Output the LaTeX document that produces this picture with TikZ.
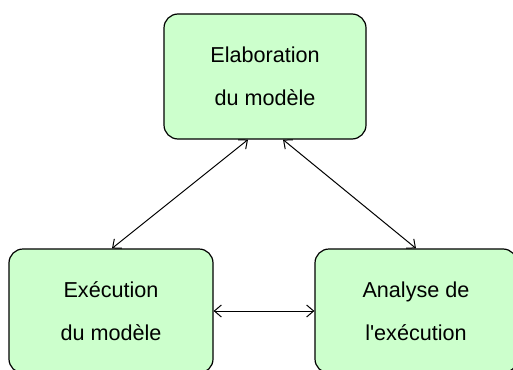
\documentclass[tikz,border=0pt]{standalone}
\usepackage{fontspec}
\setmainfont{Liberation Sans}[Ligatures=TeXOff]
\usepackage{xcolor}
\usepackage{tikz}
\usetikzlibrary{arrows.meta, positioning}

\definecolor{boxgreen}{HTML}{CCFFCC}

\begin{document}
\begin{tikzpicture}[x=0.5pt,y=-0.5pt,
                    >={Straight Barb[length=3.5pt,width=6pt]},
                    step node/.style={rectangle,rounded corners=7pt,draw,line width=0.6pt,
                      fill=boxgreen,align=center,inner sep=0pt,
                      font=\fontsize{10.8}{21.5}\selectfont},
                    link/.style={<->,line width=0.5pt}]

 \clip (0,0) rectangle (513,369);

 \node[step node,minimum width=101pt,minimum height=62.5pt] (model) at (265,76.5) {Elaboration\\du modèle};
 \node[step node,minimum width=102pt,minimum height=62pt] (exec) at (111,311) {Exécution\\du modèle};
 \node[step node,minimum width=101pt,minimum height=62pt] (anal) at (416,311) {Analyse de\\l'exécution};

 \draw[link] ([xshift=-8.5pt]model.south) -- ([xshift=0.5pt]exec.north);
 \draw[link] ([xshift=9pt]model.south) -- (anal.north);
 \draw[link] (exec.east) -- (anal.west);

\end{tikzpicture}
\end{document}
